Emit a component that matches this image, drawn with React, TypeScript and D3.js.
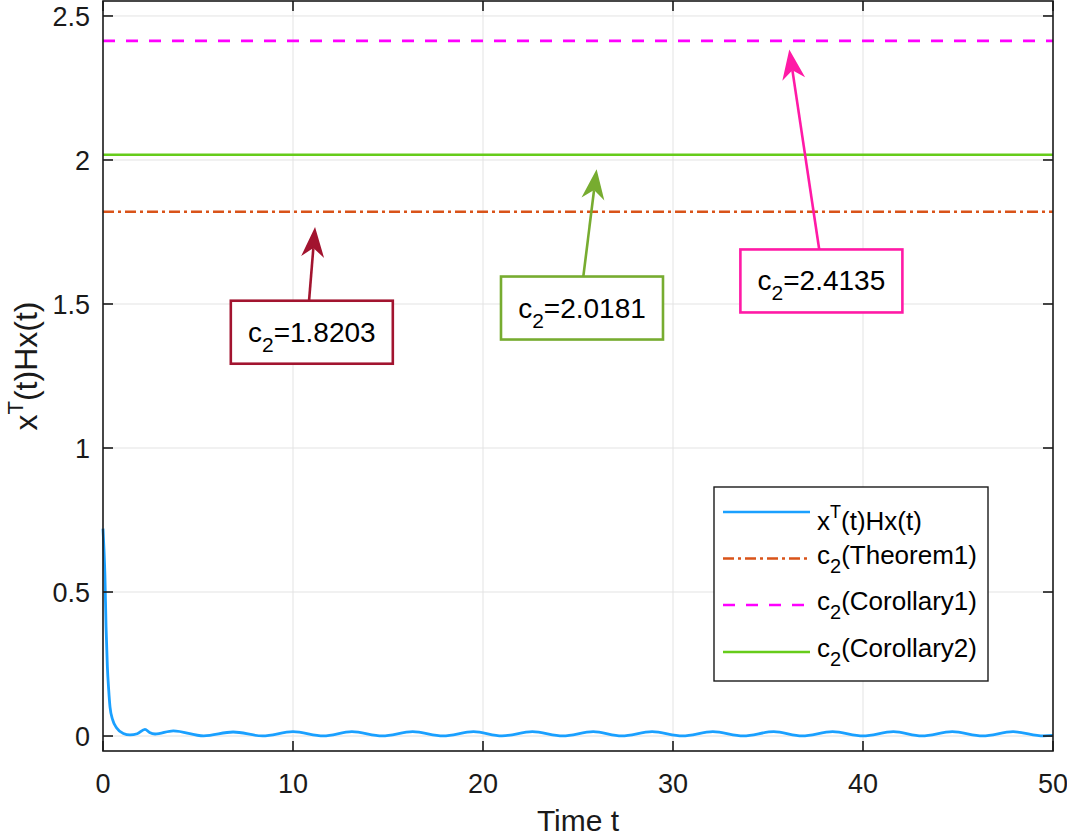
import { useEffect, useRef } from "react";
import * as d3 from "d3";

// time samples and the value of x^T(t)Hx(t)
const timeT = [
  0, 0.05, 0.1, 0.16, 0.23, 0.3, 0.37, 0.51, 0.72, 1.07, 1.42, 1.8, 2.21, 2.45, 2.74,
  3.7, 5.3, 6.85, 8.4, 10.0, 11.6, 13.1, 14.7, 16.3, 17.9, 19.5, 21.0, 22.6, 24.2,
  25.8, 27.3, 28.9, 30.5, 32.1, 33.7, 35.3, 36.8, 38.4, 40.0, 41.6, 43.1, 44.7,
  46.3, 47.9, 49.5, 50,
];
const xHx = [
  0.72, 0.65, 0.56, 0.38, 0.24, 0.16, 0.1, 0.056, 0.028, 0.009, 0.004, 0.008, 0.023, 0.012, 0.007,
  0.018, 0.0005, 0.014, 0.0004, 0.015, 0.0005, 0.015, 0.0005, 0.015, 0.0005, 0.015, 0.0005, 0.015, 0.0005,
  0.015, 0.0005, 0.015, 0.0005, 0.015, 0.0005, 0.015, 0.0005, 0.015, 0.0005, 0.015, 0.0005, 0.015,
  0.0005, 0.015, 0.0005, 0.002,
];

const c2Names = ["c2(Theorem1)", "c2(Corollary1)", "c2(Corollary2)"];
const c2Values = [1.8203, 2.4135, 2.0181];
const c2Colors = ["#D95319", "#FF00FF", "#66CC1A"];
const c2Dash = ["11,4,3,4", "12,11", null];

const xTicks = [0, 10, 20, 30, 40, 50];
const yTicks = [0, 0.5, 1, 1.5, 2, 2.5];

// annotations: label, box centre, arrow tail and tip (data units)
const annoText = ["1.8203", "2.0181", "2.4135"];
const annoColors = ["#A2142F", "#77AC30", "#FF1AA6"];
const annoBox = [[10.99, 1.402], [25.21, 1.486], [37.81, 1.58]];
const annoTail = [[10.84, 1.507], [25.28, 1.595], [37.7, 1.6875]];
const annoTip = [[11.16, 1.767], [25.98, 1.968], [36.12, 2.384]];

export default function App() {
  const ref = useRef<SVGSVGElement | null>(null);

  useEffect(() => {
    if (!ref.current) return;
    const svg = d3.select(ref.current);
    svg.selectAll("*").remove();

    const font = "'Liberation Sans', Arial, Helvetica, sans-serif";
    const ink = "#1a1a1a";
    const left = 103, right = 1053, top = 1, bottom = 751;

    const x = d3.scaleLinear().domain([0, 50]).range([left, right]);
    const y = d3.scaleLinear().domain([-0.052, 2.552]).range([bottom, top]);

    svg.append("rect").attr("x", left).attr("y", top)
      .attr("width", right - left).attr("height", bottom - top).attr("fill", "#fff");

    // grid
    const grid = svg.append("g").attr("stroke", "#e3e3e3").attr("stroke-width", 1);
    xTicks.slice(1, -1).forEach(t => {
      grid.append("line").attr("x1", x(t)).attr("x2", x(t)).attr("y1", top).attr("y2", bottom);
    });
    yTicks.forEach(t => {
      grid.append("line").attr("x1", left).attr("x2", right).attr("y1", y(t)).attr("y2", y(t));
    });

    // threshold lines
    c2Values.forEach((v, i) => {
      const l = svg.append("line")
        .attr("x1", left).attr("x2", right).attr("y1", y(v)).attr("y2", y(v))
        .attr("stroke", c2Colors[i]).attr("stroke-width", 2.6);
      if (c2Dash[i]) l.attr("stroke-dasharray", c2Dash[i] as string);
    });

    // trajectory
    const pts = timeT.map((t, i) => [t, xHx[i]] as [number, number]);
    const line = d3.line<[number, number]>()
      .x(d => x(d[0])).y(d => y(d[1])).curve(d3.curveMonotoneX);
    svg.append("path").attr("d", line(pts) as string)
      .attr("fill", "none").attr("stroke", "#1AA0FF").attr("stroke-width", 2.8);

    // axes box and ticks
    const ax = svg.append("g").attr("stroke", ink).attr("stroke-width", 1.6);
    ax.append("rect").attr("x", left).attr("y", top)
      .attr("width", right - left).attr("height", bottom - top).attr("fill", "none");
    const tl = 10;
    xTicks.forEach(t => {
      ax.append("line").attr("x1", x(t)).attr("x2", x(t)).attr("y1", bottom).attr("y2", bottom - tl);
      ax.append("line").attr("x1", x(t)).attr("x2", x(t)).attr("y1", top).attr("y2", top + tl);
    });
    yTicks.forEach(t => {
      ax.append("line").attr("x1", left).attr("x2", left + tl).attr("y1", y(t)).attr("y2", y(t));
      ax.append("line").attr("x1", right).attr("x2", right - tl).attr("y1", y(t)).attr("y2", y(t));
    });

    const labels = svg.append("g").attr("font-family", font).attr("fill", ink).attr("font-size", 27);
    xTicks.forEach(t => {
      labels.append("text").attr("x", x(t)).attr("y", bottom + 42)
        .attr("text-anchor", "middle").text(String(t));
    });
    yTicks.forEach(t => {
      labels.append("text").attr("x", left - 13).attr("y", y(t) + 10)
        .attr("text-anchor", "end").text(String(t));
    });

    svg.append("text").attr("x", (left + right) / 2).attr("y", 831)
      .attr("text-anchor", "middle").attr("font-family", font).attr("font-size", 30)
      .attr("fill", ink).text("Time t");

    const yl = svg.append("text").attr("transform", `translate(37, 366) rotate(-90)`)
      .attr("text-anchor", "middle").attr("font-family", font).attr("font-size", 32).attr("fill", ink);
    yl.append("tspan").text("x");
    yl.append("tspan").attr("font-size", 22).attr("dy", -14).text("T");
    yl.append("tspan").attr("dy", 14).text("(t)Hx(t)");

    // annotations
    const ann = svg.append("g").attr("font-family", font);
    annoText.forEach((s, i) => {
      const col = annoColors[i];
      const [tx, ty] = [x(annoTail[i][0]), y(annoTail[i][1])];
      const [px, py] = [x(annoTip[i][0]), y(annoTip[i][1])];
      const ang = Math.atan2(py - ty, px - tx);
      const L = 30, W = 11.5, N = 21;
      const ca = Math.cos(ang), sa = Math.sin(ang);
      const pt = (a: number, b: number) => [px - a * ca - b * sa, py - a * sa + b * ca];
      const base = pt(N, 0);
      ann.append("line").attr("x1", tx).attr("y1", ty).attr("x2", base[0]).attr("y2", base[1])
        .attr("stroke", col).attr("stroke-width", 2.6);
      const head = [[px, py], pt(L, W), base, pt(L, -W)];
      ann.append("polygon").attr("points", head.map(p => p.join(",")).join(" ")).attr("fill", col);

      const bx = x(annoBox[i][0]), by = y(annoBox[i][1]);
      const bw = 162, bh = 63;
      ann.append("rect").attr("x", bx - bw / 2).attr("y", by - bh / 2)
        .attr("width", bw).attr("height", bh).attr("fill", "#fff")
        .attr("stroke", col).attr("stroke-width", 2.6);
      const txt = ann.append("text").attr("x", bx).attr("y", by + 9.5)
        .attr("text-anchor", "middle").attr("font-size", 28).attr("fill", "#000");
      txt.append("tspan").text("c");
      txt.append("tspan").attr("font-size", 21).attr("dy", 10).text("2");
      txt.append("tspan").attr("dy", -10).text("=" + s);
    });

    // legend
    const lg = svg.append("g").attr("font-family", font).attr("font-size", 26);
    lg.append("rect").attr("x", 714).attr("y", 487).attr("width", 274).attr("height", 194)
      .attr("fill", "#fff").attr("stroke", ink).attr("stroke-width", 1.4);
    const rowY = [512, 558.5, 605, 652];
    const rowBase = [530, 564, 610, 657];
    const entries = [
      { name: "x(t)Hx(t)", color: "#1AA0FF", dash: null as string | null },
      ...c2Names.map((n, i) => ({ name: n, color: c2Colors[i], dash: c2Dash[i] })),
    ];
    // legend order: trajectory, Theorem1, Corollary1, Corollary2
    entries.forEach((e, i) => {
      const l = lg.append("line").attr("x1", 723).attr("x2", 810)
        .attr("y1", rowY[i]).attr("y2", rowY[i])
        .attr("stroke", e.color).attr("stroke-width", 2.6);
      if (e.dash) l.attr("stroke-dasharray", e.dash);
      const t = lg.append("text").attr("x", 817).attr("y", rowBase[i]).attr("fill", "#000");
      if (i === 0) {
        t.append("tspan").text("x");
        t.append("tspan").attr("font-size", 18).attr("dy", -12).text("T");
        t.append("tspan").attr("dy", 12).text("(t)Hx(t)");
      } else {
        t.append("tspan").text("c");
        t.append("tspan").attr("font-size", 20).attr("dy", 9).text("2");
        t.append("tspan").attr("dy", -9).text(e.name.slice(2));
      }
    });
  }, []);

  return (
    <div style={{ position: "absolute", left: 0, top: 0 }}>
      <svg ref={ref} width={1067} height={838} style={{ display: "block" }} />
    </div>
  );
}
